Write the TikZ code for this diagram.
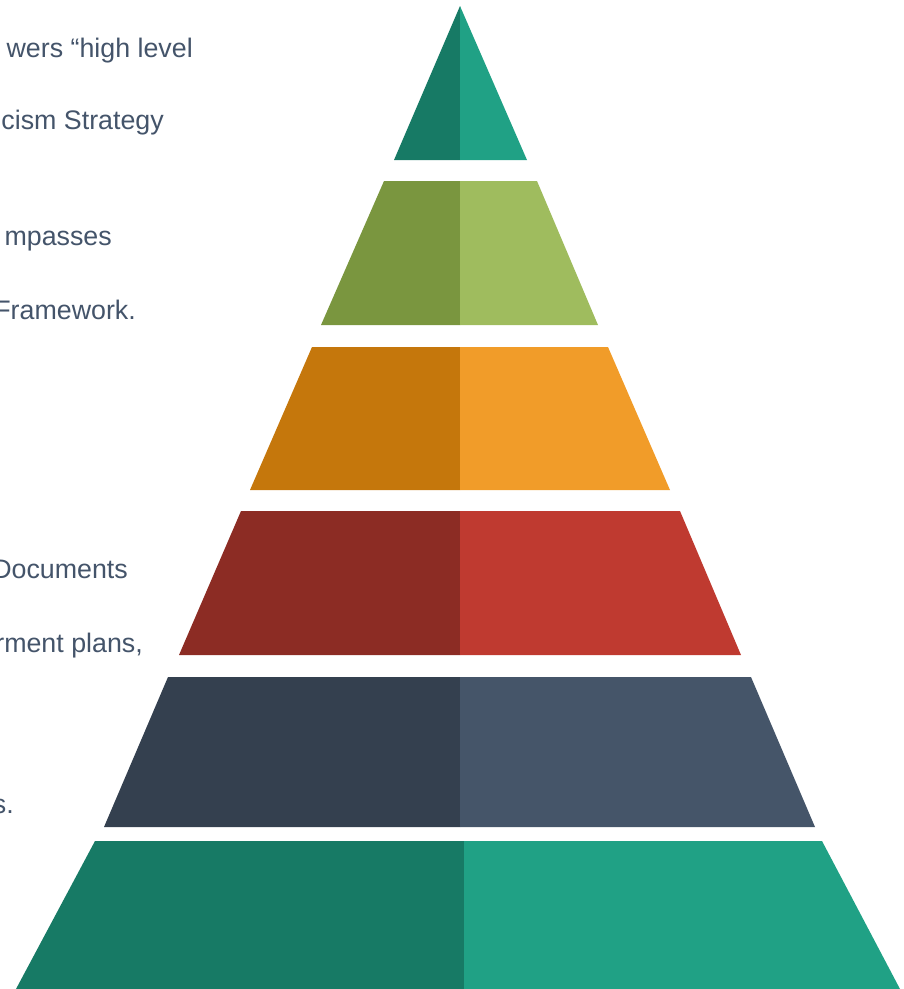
\documentclass[tikz,border=0pt]{standalone}
\usepackage{fontspec}
\setmainfont{Liberation Sans}
\definecolor{tealdark}{HTML}{177A65}
\definecolor{teallight}{HTML}{20A185}
\definecolor{olivedark}{HTML}{7A963F}
\definecolor{olivelight}{HTML}{9FBC5E}
\definecolor{amberdark}{HTML}{C5770C}
\definecolor{amberlight}{HTML}{F19C29}
\definecolor{reddark}{HTML}{8C2C24}
\definecolor{redlight}{HTML}{BF3A30}
\definecolor{slatedark}{HTML}{34404F}
\definecolor{slatelight}{HTML}{455569}
\definecolor{textslate}{HTML}{44546A}
\tikzset{
  blurb/.style={anchor=base east,inner sep=0pt,text=textslate,font=\fontsize{26.8}{31}\selectfont},
}
\begin{document}
\begin{tikzpicture}[x=1pt,y=-1pt]
    \useasboundingbox (0,0) rectangle (904,989);
    \clip (0,0) rectangle (904,989);
    % top
    \fill [tealdark] (460,6) -- (394,160) -- (460,160) -- cycle;
    \fill [teallight] (460,6) -- (527,160) -- (460,160) -- cycle;
    % second
    \fill [olivedark] (384,181) -- (460,181) -- (460,325) -- (321,325) -- cycle;
    \fill [olivelight] (460,181) -- (537,181) -- (598,325) -- (460,325) -- cycle;
    % third
    \fill [amberdark] (312,347) -- (460,347) -- (460,490) -- (250,490) -- cycle;
    \fill [amberlight] (460,347) -- (608,347) -- (670,490) -- (460,490) -- cycle;
    % fourth
    \fill [reddark] (241,511) -- (460,511) -- (460,655) -- (179,655) -- cycle;
    \fill [redlight] (460,511) -- (680,511) -- (741,655) -- (460,655) -- cycle;
    % fifth
    \fill [slatedark] (168,677) -- (460,677) -- (460,827) -- (104,827) -- cycle;
    \fill [slatelight] (460,677) -- (751,677) -- (815,827) -- (460,827) -- cycle;
    % base
    \fill [tealdark] (95,841) -- (464,841) -- (464,989) -- (16,989) -- cycle;
    \fill [teallight] (464,841) -- (822,841) -- (900,989) -- (464,989) -- cycle;
    % text down the left side
    \node [blurb] (lineA) at (193,57) {wers “high level};
    \node [blurb] (lineB) at (164,129) {cism Strategy};
    \node [blurb] (lineC) at (112,245) {mpasses};
    \node [blurb] (lineD) at (136,319) {Framework.};
    \node [blurb] (lineE) at (128,578) {Documents};
    \node [blurb] (lineF) at (143,652) {rment plans,};
    \node [blurb] (lineG) at (14,813) {s.};
\end{tikzpicture}
\end{document}
